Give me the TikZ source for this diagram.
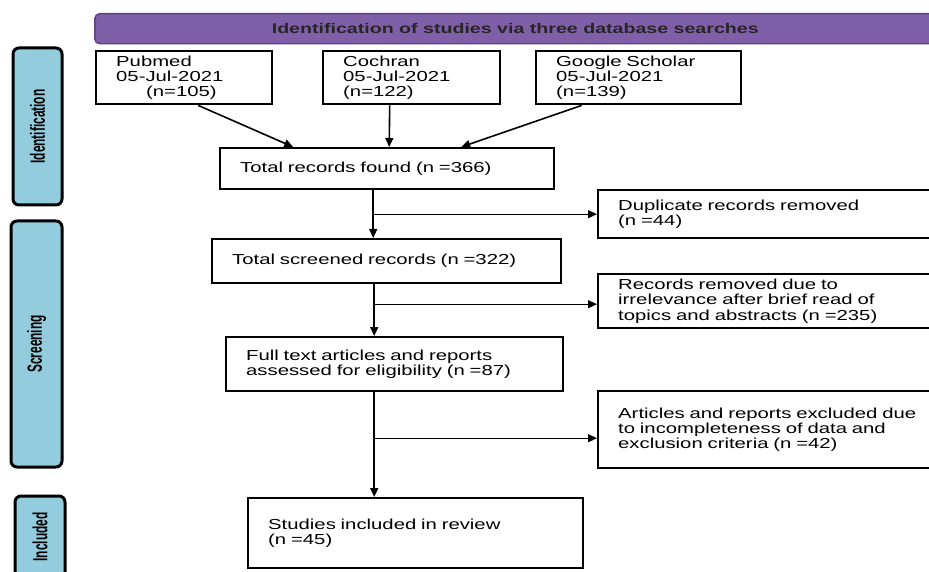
\documentclass[tikz,border=0pt]{standalone}
\usepackage{fontspec}
\setmainfont{Liberation Sans}[FakeStretch=1.4]
\newfontfamily\sidefont{Liberation Sans}[FakeStretch=0.58]
\usetikzlibrary{arrows.meta}
\definecolor{bannerfill}{HTML}{7F5FA8}
\definecolor{bannerdraw}{HTML}{5B4285}
\definecolor{stagefill}{HTML}{93CDDD}

\begin{document}
\begin{tikzpicture}[x=1pt,y=-1pt]
	\tikzstyle{box}=[draw=black, line width=2.4pt, anchor=north west, inner xsep=20pt, inner ysep=0pt, align=left, font=\fontsize{14.5}{15.3}\selectfont]
	\tikzstyle{stage}=[draw=black, fill=stagefill, line width=3pt, rounded corners=6pt, rotate=90, inner sep=0pt, font=\sidefont\bfseries\fontsize{20.5}{20.5}\selectfont]
	\tikzstyle{flow}=[line width=1.6pt, -{Triangle[length=9pt,width=8pt]}]
	\tikzstyle{side}=[line width=1.1pt, -{Triangle[length=9pt,width=8pt]}]
	\clip (0,0) rectangle (929,572);
	% banner and stages
	\node[draw=bannerdraw, fill=bannerfill, line width=1.5pt, rounded corners=5pt, anchor=north west, minimum width=841pt, minimum height=30pt, inner sep=0pt, font=\bfseries\fontsize{14}{14}\selectfont, text=black!85] (banner) at (94,13) {Identification of studies via three database searches};
	\node[stage, minimum width=157pt, minimum height=49pt] (ident) at (37.5,126.5) {Identification};
	\node[stage, minimum width=246pt, minimum height=51pt] (screen) at (36.5,344) {Screening};
	\node[stage, minimum width=82pt, minimum height=50pt] (incl) at (40,537) {Included};
	% databases
	\node[box, text width=136pt, minimum height=53pt] (pubmed) at (95,50) {Pubmed\\05-Jul-2021\\\hspace*{30pt}(n=105)};
	\node[box, text width=137pt, minimum height=53pt] (cochran) at (322,50) {Cochran\\05-Jul-2021\\(n=122)};
	\node[box, text width=165pt, minimum height=53pt] (google) at (535,50) {Google Scholar\\05-Jul-2021\\(n=139)};
	% main column
	\node[box, text width=294pt, minimum height=41pt] (total) at (219,147) {Total records found (n =366)};
	\node[box, text width=309pt, minimum height=44pt] (screened) at (211,238) {Total screened records (n =322)};
	\node[box, text width=297pt, minimum height=54pt] (fulltext) at (225,336) {Full text articles and reports\\assessed for eligibility (n =87)};
	\node[box, text width=295pt, minimum height=70pt] (studies) at (247,497) {Studies included in review\\(n =45)};
	% removed
	\node[box, text width=323pt, minimum height=48pt] (duplicate) at (597,189) {Duplicate records removed\\(n =44)};
	\node[box, text width=323pt, minimum height=54pt] (irrelevant) at (597,273) {Records removed due to\\irrelevance after brief read of\\topics and abstracts (n =235)};
	\node[box, text width=323pt, minimum height=77pt] (excluded) at (597,390) {Articles and reports excluded due\\to incompleteness of data and\\exclusion criteria (n =42)};
	% arrows
	\draw[flow] ([xshift=14pt]pubmed.south) -- ([xshift=-94pt]total.north);
	\draw[flow] ([xshift=-22pt]cochran.south) -- ([xshift=2pt]total.north);
	\draw[flow] ([xshift=-57pt]google.south) -- ([xshift=74pt]total.north);
	\coordinate (s1) at ([xshift=-14pt]total.south);
	\coordinate (e1) at (duplicate.west);
	\draw[flow] (s1) -- (s1 |- screened.north);
	\draw[side] (s1 |- e1) -- (e1);
	\coordinate (s2) at ([xshift=-12.5pt]screened.south);
	\coordinate (e2) at ([yshift=-3pt]irrelevant.west);
	\draw[flow] (s2) -- (s2 |- fulltext.north);
	\draw[side] (s2 |- e2) -- (e2);
	\coordinate (s3) at ([xshift=-20.5pt]fulltext.south);
	\coordinate (e3) at ([yshift=-8.5pt]excluded.west);
	\draw[flow] (s3) -- (s3 |- studies.north);
	\draw[side] (s3 |- e3) -- (e3);
\end{tikzpicture}
\end{document}
